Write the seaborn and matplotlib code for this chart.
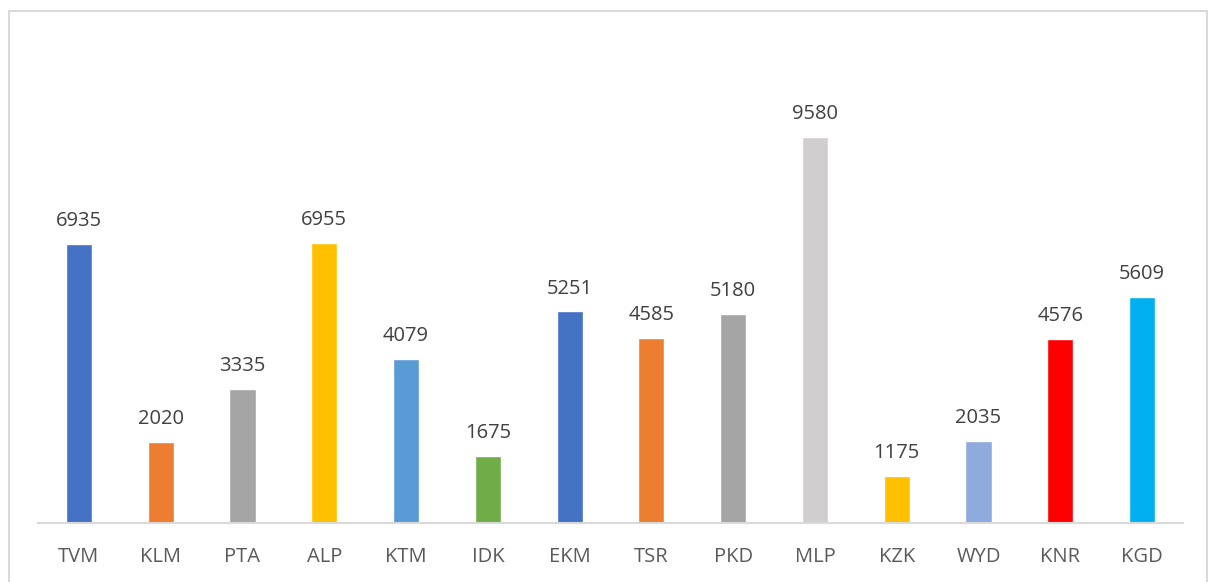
import pandas as pd
import matplotlib.pyplot as plt
import seaborn as sns
from matplotlib.patches import Rectangle

districts = ['TVM', 'KLM', 'PTA', 'ALP', 'KTM', 'IDK', 'EKM', 'TSR', 'PKD', 'MLP',
             'KZK', 'WYD', 'KNR', 'KGD']
counts = [6935, 2020, 3335, 6955, 4079, 1675, 5251, 4585, 5180, 9580,
          1175, 2035, 4576, 5609]
bar_colors = ['#4472C4', '#ED7D31', '#A5A5A5', '#FFC000', '#5B9BD5', '#70AD47',
              '#4472C4', '#ED7D31', '#A5A5A5', '#D0CECE', '#FFC000', '#8FAADC',
              '#FF0000', '#00B0F0']

df = pd.DataFrame({'district': districts, 'count': counts})

sns.set_theme(style='white')
plt.rcParams['font.family'] = ['Open Sans', 'DejaVu Sans']

fig = plt.figure(figsize=(12.17, 5.82), dpi=100)
ax = fig.add_axes([38 / 1217, 1 - 523 / 582, (1183 - 38) / 1217, (523 - 39.5) / 582])

sns.barplot(data=df, x='district', y='count', hue='district', palette=bar_colors,
            width=0.32, legend=False, ax=ax, saturation=1)

for i, v in enumerate(counts):
    ax.text(i, v + 320, str(v), ha='center', va='bottom', fontsize=14.5, color='#404040')

ax.set_xlim(-0.5, len(districts) - 0.5)
ax.set_ylim(0, 12000)
ax.set_xlabel('')
ax.set_ylabel('')
ax.set_yticks([])
ax.tick_params(axis='x', length=0, labelsize=14.5, labelcolor='#595959', pad=17)
for side in ['top', 'left', 'right']:
    ax.spines[side].set_visible(False)
ax.spines['bottom'].set_color('#D9D9D9')
ax.spines['bottom'].set_linewidth(1.5)

# outer chart frame (bottom edge lies outside the image)
fig.add_artist(Rectangle((8.5 / 1217, -0.05), (1207 - 8.5) / 1217, 1.05 - 10.5 / 582,
                         transform=fig.transFigure, fill=False,
                         edgecolor='#D9D9D9', linewidth=1.5))

fig.savefig('out.png', dpi=100)
plt.close(fig)
